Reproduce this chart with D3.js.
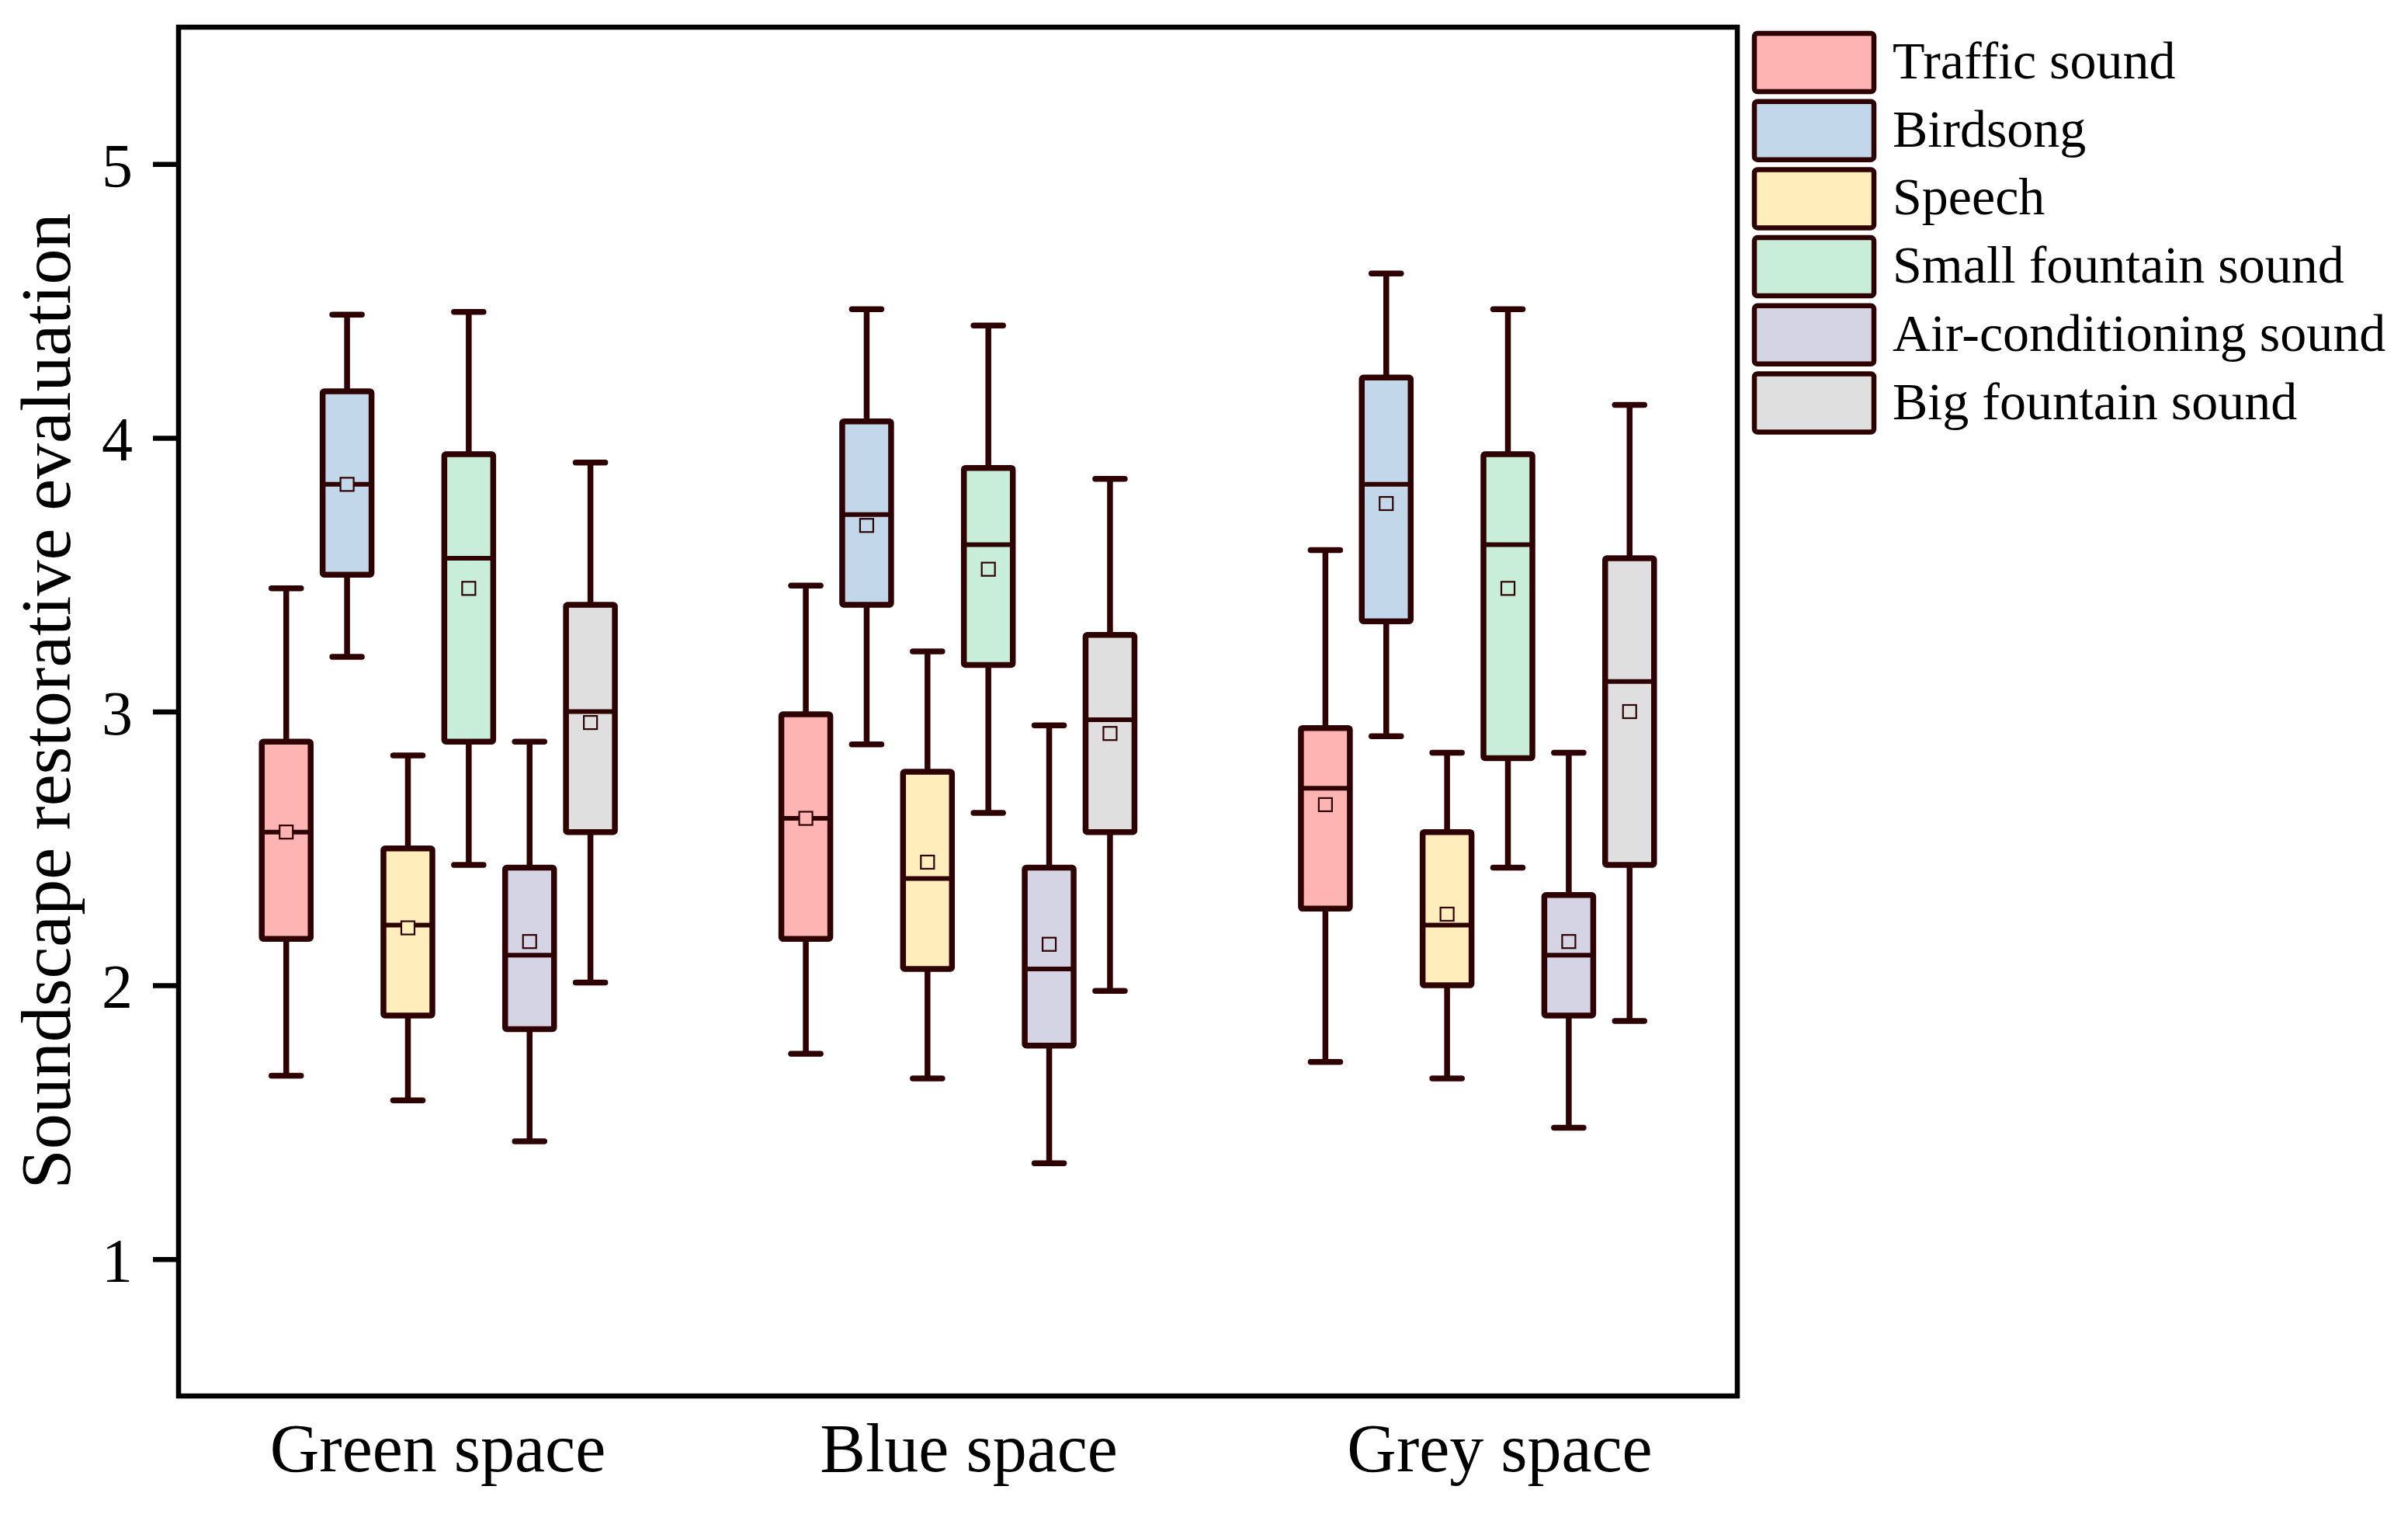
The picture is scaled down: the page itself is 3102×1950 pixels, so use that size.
<!DOCTYPE html>
<html><head><meta charset="utf-8">
<script src="https://cdn.jsdelivr.net/npm/d3@7"></script>
<style>body{margin:0;background:#fff}</style>
</head><body>
<svg id="chart" width="3102" height="1950"></svg>
<script>
// ---- data ----
const groups = ["Green space", "Blue space", "Grey space"];
const series = ["Traffic sound", "Birdsong", "Speech", "Small fountain sound", "Air-conditioning sound", "Big fountain sound"];
const fills = ["#FFB4B4", "#C3D7EB", "#FFEEBC", "#C8EEDA", "#D4D4E4", "#DFDFDF"];
const yTicks = [1, 2, 3, 4, 5];
// rows: groups; columns: series
const lowWhisker = [
  [1.67, 3.20, 1.58, 2.44, 1.43, 2.01],
  [1.75, 2.88, 1.66, 2.63, 1.35, 1.98],
  [1.72, 2.91, 1.66, 2.43, 1.48, 1.87]
];
const q1 = [
  [2.17, 3.50, 1.89, 2.89, 1.84, 2.56],
  [2.17, 3.39, 2.06, 3.17, 1.78, 2.56],
  [2.28, 3.33, 2.00, 2.83, 1.89, 2.44]
];
const median = [
  [2.56, 3.83, 2.22, 3.56, 2.11, 3.00],
  [2.61, 3.72, 2.39, 3.61, 2.06, 2.97],
  [2.72, 3.83, 2.22, 3.61, 2.11, 3.11]
];
const q3 = [
  [2.89, 4.17, 2.50, 3.94, 2.43, 3.39],
  [2.99, 4.06, 2.78, 3.89, 2.43, 3.28],
  [2.94, 4.22, 2.56, 3.94, 2.33, 3.56]
];
const highWhisker = [
  [3.45, 4.45, 2.84, 4.46, 2.89, 3.91],
  [3.46, 4.47, 3.22, 4.41, 2.95, 3.85],
  [3.59, 4.60, 2.85, 4.47, 2.85, 4.12]
];
const meanVal = [
  [2.56, 3.83, 2.21, 3.45, 2.16, 2.96],
  [2.61, 3.68, 2.45, 3.52, 2.15, 2.92],
  [2.66, 3.76, 2.26, 3.45, 2.16, 3.00]
];

// ---- layout ----
const svg = d3.select("#chart");
const L = 230, R = 2238, T = 35, B = 1798;
const ink = "#2E0202";
const font = "'Liberation Serif', 'Times New Roman', serif";

const y = d3.scaleLinear().domain([0.5, 5.5]).range([B, T]);
const xg = d3.scaleBand().domain(groups).range([L, R]).padding(0);
const xs = d3.scalePoint().domain(series).range([0, xg.bandwidth()]).padding(1.77);
const xl = d3.scalePoint().domain(groups).range([564, 1932]);

const boxW = 63, capW = 38, sw = 7.5;

// boxes
const data = [];
groups.forEach((g, gi) => series.forEach((s, si) => data.push({
  g, s, si,
  lo: lowWhisker[gi][si], q1: q1[gi][si], med: median[gi][si],
  q3: q3[gi][si], hi: highWhisker[gi][si], mean: meanVal[gi][si]
})));

const bx = svg.append("g").selectAll("g").data(data).join("g")
  .attr("transform", d => `translate(${xg(d.g) + xs(d.s)},0)`);

// whiskers
bx.append("line").attr("x1", 0).attr("x2", 0)
  .attr("y1", d => y(d.hi)).attr("y2", d => y(d.q3))
  .attr("stroke", ink).attr("stroke-width", sw);
bx.append("line").attr("x1", 0).attr("x2", 0)
  .attr("y1", d => y(d.q1)).attr("y2", d => y(d.lo))
  .attr("stroke", ink).attr("stroke-width", sw);
bx.append("line").attr("x1", -capW / 2).attr("x2", capW / 2)
  .attr("y1", d => y(d.hi)).attr("y2", d => y(d.hi))
  .attr("stroke", ink).attr("stroke-width", sw).attr("stroke-linecap", "round");
bx.append("line").attr("x1", -capW / 2).attr("x2", capW / 2)
  .attr("y1", d => y(d.lo)).attr("y2", d => y(d.lo))
  .attr("stroke", ink).attr("stroke-width", sw).attr("stroke-linecap", "round");
// box
bx.append("rect").attr("x", -boxW / 2).attr("width", boxW)
  .attr("y", d => y(d.q3)).attr("height", d => y(d.q1) - y(d.q3))
  .attr("fill", d => fills[d.si]).attr("stroke", ink).attr("stroke-width", sw)
  .attr("rx", 2);
// median
bx.append("line").attr("x1", -boxW / 2).attr("x2", boxW / 2)
  .attr("y1", d => y(d.med)).attr("y2", d => y(d.med))
  .attr("stroke", ink).attr("stroke-width", 6);
// mean marker
bx.append("rect").attr("x", -8.5).attr("width", 17)
  .attr("y", d => y(d.mean) - 8.5).attr("height", 17)
  .attr("fill", d => fills[d.si]).attr("stroke", ink).attr("stroke-width", 2.2);

// frame
svg.append("rect").attr("x", L).attr("y", T).attr("width", R - L).attr("height", B - T)
  .attr("fill", "none").attr("stroke", "#000").attr("stroke-width", 6.5);

// y axis
const ya = svg.append("g").attr("transform", `translate(${L},0)`)
  .call(d3.axisLeft(y).tickValues(yTicks).tickFormat(d3.format("d")).tickSize(33).tickPadding(26));
ya.select(".domain").remove();
ya.selectAll(".tick line").attr("stroke", "#000").attr("stroke-width", 6.5);
ya.selectAll(".tick text").attr("font-family", font).attr("font-size", 80)
  .attr("fill", "#000").attr("dy", "0.36em");

// x labels
svg.append("g").selectAll("text").data(groups).join("text")
  .attr("x", d => xl(d)).attr("y", 1895)
  .attr("text-anchor", "middle").attr("font-family", font).attr("font-size", 88)
  .attr("fill", "#000").text(d => d);

// y title
svg.append("text")
  .attr("transform", `translate(90,903) rotate(-90)`)
  .attr("text-anchor", "middle").attr("font-family", font).attr("font-size", 92)
  .attr("fill", "#000").text("Soundscape restorative evaluation");

// legend
const lg = svg.append("g").selectAll("g").data(series).join("g")
  .attr("transform", (d, i) => `translate(2260,${43 + i * 87.7})`);
lg.append("rect").attr("width", 154).attr("height", 75).attr("rx", 4)
  .attr("fill", (d, i) => fills[i]).attr("stroke", ink).attr("stroke-width", 6.5);
lg.append("text").attr("x", 178).attr("y", 58)
  .attr("font-family", font).attr("font-size", 68).attr("fill", "#000").text(d => d);
</script>
</body></html>
